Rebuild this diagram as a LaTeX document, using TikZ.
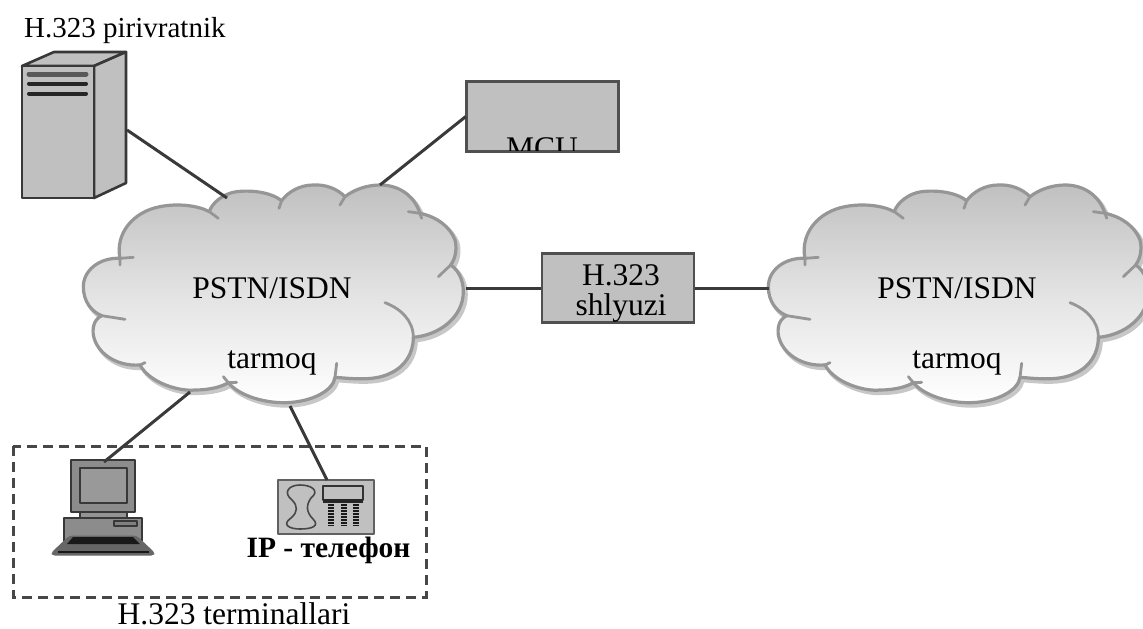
\documentclass[tikz,border=0pt]{standalone}
\usepackage{fontspec}
\setmainfont{Liberation Serif}
\definecolor{boxgray}{HTML}{C0C0C0}
\definecolor{edge}{HTML}{505050}
\definecolor{cloudedge}{HTML}{969696}
\definecolor{wire}{HTML}{3A3A3A}
\tikzset{
  wirestyle/.style={draw=wire,line width=3pt},
  labelfont/.style={font=\fontsize{31.5}{32}\selectfont,inner sep=0pt,text=black},
  boxstyle/.style={draw=edge,line width=2.4pt,fill=boxgray,inner sep=0pt,rectangle},
  equip/.style={draw=black!78,line width=2.6pt,line join=round},
}
\newcommand{\cloudoutline}{
  (120,265) .. controls (60,262) and (10,300) .. (10,350)
  .. controls (10,395) and (35,425) .. (65,437)
  .. controls (38,450) and (38,480) .. (40,495)
  .. controls (50,550) and (110,590) .. (180,585)
  .. controls (210,640) and (300,665) .. (345,660)
  .. controls (390,660) and (425,650) .. (445,638)
  .. controls (480,680) and (560,700) .. (620,698)
  .. controls (700,695) and (760,660) .. (765,622)
  .. controls (810,625) and (880,635) .. (930,610)
  .. controls (975,590) and (1000,550) .. (1000,502)
  .. controls (1080,495) and (1150,440) .. (1150,365)
  .. controls (1150,330) and (1135,300) .. (1112,285)
  .. controls (1130,260) and (1130,230) .. (1125,210)
  .. controls (1110,170) and (1070,140) .. (1020,130)
  .. controls (1000,70) and (950,45) .. (900,45)
  .. controls (860,45) and (820,60) .. (795,80)
  .. controls (770,55) and (735,43) .. (700,45)
  .. controls (660,45) and (625,65) .. (605,92)
  .. controls (570,65) and (510,60) .. (470,65)
  .. controls (430,70) and (395,100) .. (388,125)
  .. controls (350,105) and (290,100) .. (240,110)
  .. controls (160,125) and (105,190) .. (120,265) -- cycle
}
\newcommand{\cloudshape}[2]{
  \begin{scope}[xshift=#1pt,yshift=-#2pt,x=0.33333pt,y=-0.33333pt]
    \fill[black!30,xshift=2.5pt,yshift=-3pt,draw=black!22,line width=4pt] \cloudoutline;
    \shade[top color=boxgray,bottom color=white,middle color=black!11] \cloudoutline;
    \draw[cloudedge,line width=3.2pt,line join=round] \cloudoutline;
    \draw[cloudedge,line width=2.8pt,line cap=round]
      (120,285) -- (120,265) -- (160,262)
      (65,437) -- (135,448)
      (180,585) -- (195,578)
      (445,638) -- (430,620) (445,638) -- (470,637)
      (765,622) -- (770,580)
      (1000,502) .. controls (1000,450) and (960,415) .. (915,398)
      (1112,285) -- (1075,320)
      (1020,130) -- (985,125) (1020,130) -- (1025,145)
      (795,80) -- (780,105)
      (605,92) -- (597,115)
      (388,125) -- (415,145);
  \end{scope}
}
\begin{document}
\begin{tikzpicture}[x=1pt,y=-1pt]
\useasboundingbox (0,0) rectangle (1143,629);
\fill[white] (0,0) rectangle (1143,629);

% anchor coordinates
\coordinate (srvport) at (127,130);
\coordinate (cloudA-nw) at (227,198);
\coordinate (cloudA-ne) at (380,185);
\coordinate (cloudA-e) at (466,288);
\coordinate (cloudA-sw) at (190,392);
\coordinate (cloudA-s) at (290,406);
\coordinate (cloudB-w) at (769,288);
\coordinate (pcport) at (104,462);
\coordinate (phoneport) at (327,480);

\cloudshape{80}{170}
\cloudshape{765}{170}

% MCU
\node[boxstyle,minimum width=151pt,minimum height=69pt] (mcu) at (542.5,116.5) {};
\begin{scope}
  \clip (mcu.north west) rectangle (mcu.south east);
  \node[labelfont,anchor=base] (mcutext) at (542,158) {MCU};
\end{scope}
\draw[draw=edge,line width=2.4pt] (mcu.north west) rectangle (mcu.south east);

% gateway
\node[boxstyle,minimum width=152pt,minimum height=69pt] (gw) at (618,288) {};
\node[labelfont,anchor=base] (gw1) at (621,285) {H.323};
\node[labelfont,anchor=base] (gw2) at (621,315) {shlyuzi};

% server
\filldraw[equip,fill=boxgray] (22,66) -- (54,52) -- (126,52) -- (94,66) -- cycle;
\filldraw[equip,fill=boxgray] (94,66) -- (126,52) -- (126,183) -- (94,198) -- cycle;
\filldraw[equip,fill=boxgray] (22,66) rectangle (94,198);
\draw[black!65,line width=5pt,line cap=round] (29,74) -- (86,74);
\draw[black!85,line width=4pt,line cap=round] (29,83.5) -- (86,83.5);
\draw[black!85,line width=4pt,line cap=round] (29,93.5) -- (86,93.5);
\node[labelfont,font=\fontsize{29}{30}\selectfont,anchor=base west] (srvlabel) at (24,37) {H.323 pirivratnik};

% cloud labels
\node[labelfont,anchor=base] (a1) at (272,298) {PSTN/ISDN};
\node[labelfont,anchor=base] (a2) at (272,368) {tarmoq};
\node[labelfont,anchor=base] (b1) at (957,298) {PSTN/ISDN};
\node[labelfont,anchor=base] (b2) at (957,368) {tarmoq};

% terminals group
\draw[draw=black!72,line width=3pt,dash pattern=on 10pt off 6pt] (13,446) rectangle (426,597);
\node[labelfont,anchor=base] (termlabel) at (234,624) {H.323 terminallari};

% PC
\filldraw[equip,fill=black!45] (71,460) rectangle (135,512);
\filldraw[equip,fill=black!40] (80,468) rectangle (127,503);
\filldraw[equip,fill=black!42] (80,512) rectangle (127,518);
\filldraw[equip,fill=black!45] (64,518) rectangle (142,541);
\filldraw[equip,fill=black!50,line width=1.8pt] (114,521) rectangle (137,526);
\filldraw[draw=black!60,fill=black!60,line width=3pt,rounded corners=3pt] (70,537) -- (136,537) -- (154,554) -- (52,554) -- cycle;
\fill[black!90] (73,537) -- (133,537) -- (140,544) -- (67,544) -- cycle;
\draw[black!90,line width=2pt] (58,552) -- (149,552);

% phone
\filldraw[equip,fill=boxgray,draw=black!62] (278,480) rectangle (374,534);
\draw[black!72,line width=1.6pt] (300,485) .. controls (288,485) and (283,493) .. (292,500)
  .. controls (298,506) and (298,512) .. (291,518) .. controls (281,525) and (290,529) .. (300,529)
  .. controls (312,529) and (320,526) .. (313,519) .. controls (306,512) and (306,505) .. (311,498)
  .. controls (320,491) and (312,485) .. (300,485) -- cycle;
\filldraw[equip,fill=boxgray,draw=black!80] (323,486) rectangle (363,500);
\draw[black!85,line width=3.5pt] (323,501) -- (363,501);
\foreach \kx in {331,344,356}{
  \draw[black!90,line width=6pt,dash pattern=on 2pt off 1pt] (\kx,504) -- (\kx,526);
}
\node[anchor=base,font=\fontsize{29.5}{30}\selectfont\bfseries,inner sep=0pt] (phonelabel) at (328.5,557) {IP - телефон};

% connectors
\draw[wirestyle] (srvport) -- (cloudA-nw);
\draw[wirestyle] (cloudA-ne) -- (mcu.west);
\draw[wirestyle] (cloudA-e) -- (gw.west);
\draw[wirestyle] (gw.east) -- (cloudB-w);
\draw[wirestyle] (cloudA-sw) -- (pcport);
\draw[wirestyle] (cloudA-s) -- (phoneport);
\end{tikzpicture}
\end{document}
